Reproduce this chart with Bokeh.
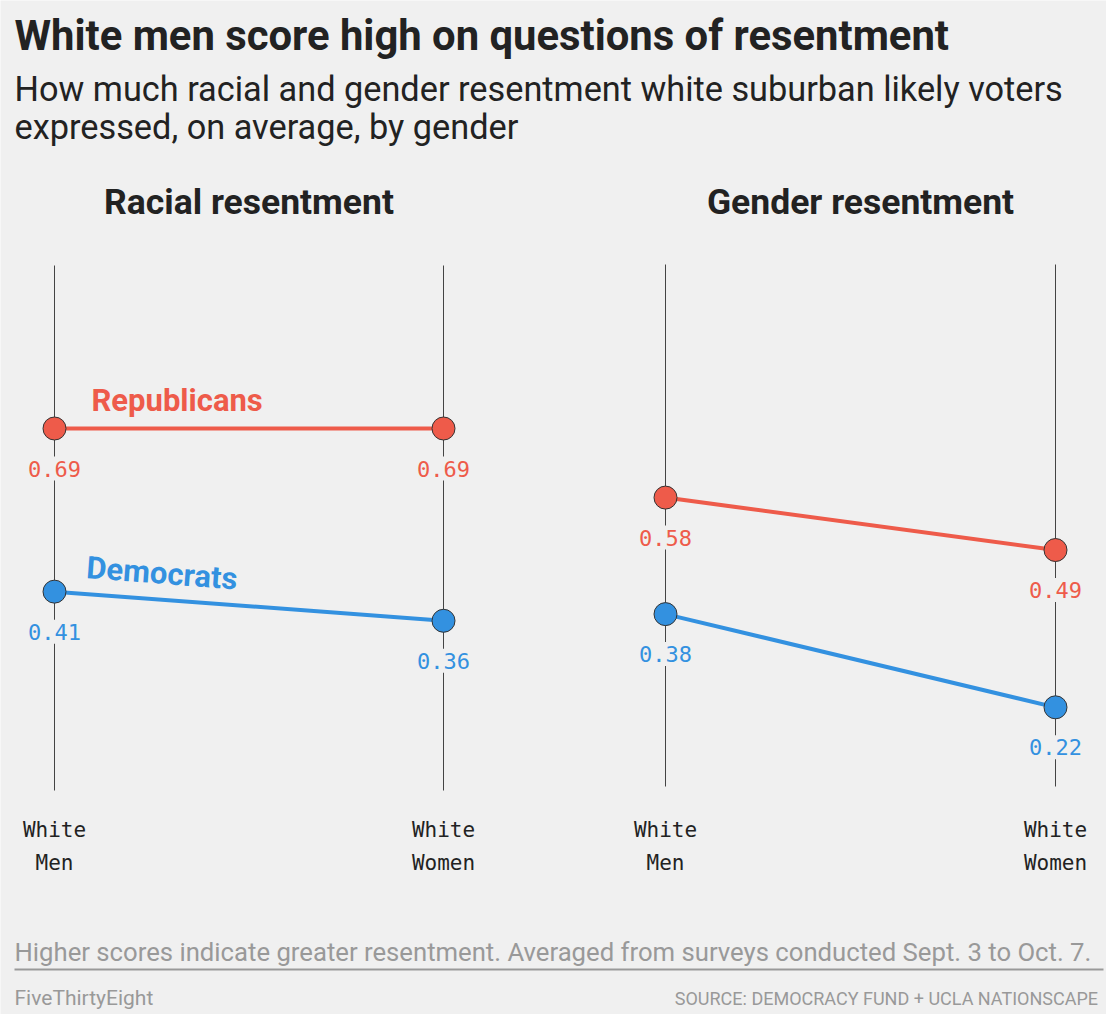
import math
from bokeh.plotting import figure
from bokeh.models import Range1d
from bokeh.core.properties import value
from bokeh.embed import file_html
from bokeh.resources import INLINE

# ---------------- data ----------------
title = "White men score high on questions of resentment"
subtitle_lines = ["How much racial and gender resentment white suburban likely voters",
                  "expressed, on average, by gender"]
panel_titles = ["Racial resentment", "Gender resentment"]
groups = ["White\nMen", "White\nWomen"]
parties = ["Republicans", "Democrats"]
racial_rep = [0.69, 0.69]
racial_dem = [0.41, 0.36]
gender_rep = [0.58, 0.49]
gender_dem = [0.38, 0.22]
note = "Higher scores indicate greater resentment. Averaged from surveys conducted Sept. 3 to Oct. 7."
credit = "FiveThirtyEight"
source = "SOURCE:  DEMOCRACY FUND + UCLA NATIONSCAPE"

# ---------------- style ----------------
BG = "#f0f0f0"
RED = "#ee5b4a"
BLUE = "#3391e0"
DARK = "#222222"
GRAY = "#999999"
SANS = "Roboto"
MONO = "DejaVu Sans Mono"

W, H = 1106, 1014
OFF = 0  # main ranges are in page pixel coordinates

p = figure(width=W, height=H, x_range=Range1d(OFF, OFF + W), y_range=Range1d(OFF + H, OFF),
           output_backend="svg", toolbar_location=None, min_border=0,
           x_axis_location=None, y_axis_location=None,
           background_fill_color=BG, border_fill_color=BG)
p.grid.visible = False
p.outline_line_color = None


def panel_ranges(x0, x1, y_one, y_zero):
    sx = x1 - x0
    xs = -(x0 - OFF) / sx
    xr = Range1d(xs, xs + W / sx)
    sy = y_zero - y_one
    yr = Range1d((y_zero - (OFF + H)) / sy, (y_zero - OFF) / sy)
    return xr, yr, sx, sy


lx, ly, lsx, lsy = panel_ranges(54, 443, 247.4, 830)
rx, ry, rsx, rsy = panel_ranges(665, 1055, 252.4, 835)
p.extra_x_ranges = {"L": lx, "R": rx}
p.extra_y_ranges = {"LY": ly, "RY": ry}

idx = list(range(len(groups)))

# ---- titles ----
p.text(x=[14], y=[35], text=[title], text_font=value(SANS), text_font_style="bold",
       text_font_size="41.8px", text_color=DARK, text_baseline="alphabetic")
p.text(x=[14, 14], y=[88, 126], text=subtitle_lines, text_font=value(SANS),
       text_font_size="34.3px", text_color=DARK, text_baseline="alphabetic")

panels = [
    ("L", "LY", racial_rep, racial_dem, lsx, lsy, 265, 790),
    ("R", "RY", gender_rep, gender_dem, rsx, rsy, 264, 786),
]

for k, (xn, yn, rep, dem, sx, sy, vtop, vbot) in enumerate(panels):
    # panel header
    p.text(x=[0.5], y=[201], text=[panel_titles[k]], x_range_name=xn,
           text_font=value(SANS), text_font_style="bold", text_font_size="35.5px",
           text_color=DARK, text_align="center", text_baseline="alphabetic")
    # vertical guides
    p.segment(x0=idx, y0=[vtop] * 2, x1=idx, y1=[vbot] * 2, x_range_name=xn,
              line_color="#444444", line_width=1)
    # group labels
    p.text(x=idx, y=[846] * 2, text=groups, x_range_name=xn,
           text_font=value(MONO), text_font_size="21px", text_color=DARK,
           text_align="center", text_baseline="middle", text_line_height=1.38)
    for vals, col in ((rep, RED), (dem, BLUE)):
        p.text(x=idx, y=vals, text=[f"{v:.2f}" for v in vals], x_range_name=xn, y_range_name=yn,
               y_offset=40, text_font=value(MONO), text_font_size="22px", text_color=col,
               text_align="center", text_baseline="middle",
               background_fill_color=BG, padding=4)
        p.line(x=idx, y=vals, x_range_name=xn, y_range_name=yn, line_color=col, line_width=4)
        p.scatter(x=idx, y=vals, x_range_name=xn, y_range_name=yn, size=23,
                  fill_color=col, line_color="#333333", line_width=1)

# party labels (left panel)
p.text(x=[0], y=[racial_rep[0]], text=[parties[0]], x_range_name="L", y_range_name="LY",
       x_offset=37, y_offset=-28, text_font=value(SANS), text_font_style="bold",
       text_font_size="31px", text_color=RED, text_align="left", text_baseline="middle")
ang = -math.atan((racial_dem[0] - racial_dem[1]) * lsy / lsx)
p.text(x=[0], y=[racial_dem[0]], text=[parties[1]], x_range_name="L", y_range_name="LY",
       x_offset=32, y_offset=-24, angle=ang, text_font=value(SANS), text_font_style="bold",
       text_font_size="31px", text_color=BLUE, text_align="left", text_baseline="middle")

# ---- footer ----
p.text(x=[14], y=[951], text=[note], text_font=value(SANS), text_font_size="25.7px",
       text_color=GRAY, text_baseline="alphabetic")
p.segment(x0=[14], y0=[969], x1=[1103], y1=[969], line_color=GRAY, line_width=2)
p.text(x=[14], y=[997], text=[credit], text_font=value(SANS), text_font_size="21px",
       text_color=GRAY, text_baseline="alphabetic")
p.text(x=[1102], y=[998], text=[source], text_font=value(SANS), text_font_size="18px",
       text_color=GRAY, text_align="right", text_baseline="alphabetic")

open("out.html", "w").write(file_html(p, INLINE))
